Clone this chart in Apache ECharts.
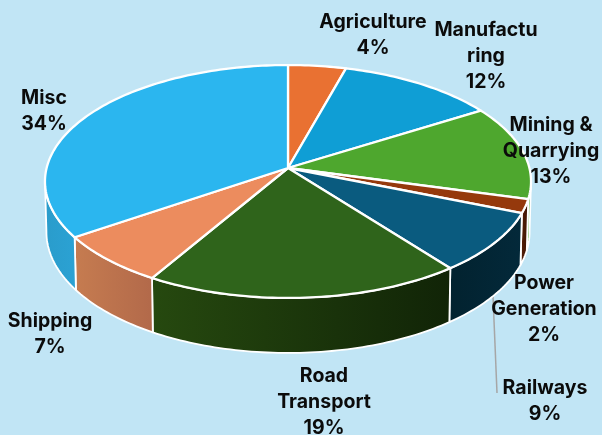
<!DOCTYPE html>
<html><head><meta charset="utf-8">
<style>html,body{margin:0;padding:0;background:#c1e5f5}#c{width:602px;height:435px}</style>
<script src="https://cdn.jsdelivr.net/npm/echarts@6/dist/echarts.min.js"></script>
</head><body><div id="c"></div>
<script>
// ---- data ----
const categories = ["Agriculture","Manufacturing","Mining & Quarrying","Power Generation","Railways","Road Transport","Shipping","Misc"];
const shares = [4.3,11.8,13.1,1.9,8.4,18.9,7.0,34.49];
const labelLines = [["Agriculture"],["Manufactu","ring"],["Mining &","Quarrying"],["Power","Generation"],["Railways"],["Road","Transport"],["Shipping"],["Misc"]];
const percentLabels = ["4%","12%","13%","2%","9%","19%","7%","34%"];
const topColors = ["#e97132","#0f9ed5","#4ea72e","#95390c","#0a5b7f","#2f641b","#ec8c5e","#2bb6ef"];
const wallColors = [["#e97132","#e97132"],["#0f9ed5","#0f9ed5"],["#4ea72e","#4ea72e"],["#5a2007","#3a1405"],["#02222f","#03293a"],["#26490f","#112407"],["#c67c50","#b2694a"],["#2a9ccb","#2ba2d4"]];
// ---- layout ----
const labelCentre = [[373,22],[486,30],[551,125],[544,283],[545,388],[324,376],[50,321],[44,98]];
const LINE_H = 26;
const P = {cx:288, cy:168, R:241.4, S:114.9, k:0.1159};
const total = shares.reduce((a,b)=>a+b,0);
function rim(theta, low){
  const u=Math.sin(theta), v=Math.cos(theta), d=1+P.k*v;
  let x=P.R*u/d, y=-P.S*v/d;
  if(low){ x*=0.994; y+=50-5*v; }
  return [P.cx+x, P.cy+y];
}
function arc(a,b,low){
  const n=Math.max(2,Math.ceil((b-a)/0.02)), pts=[];
  for(let i=0;i<=n;i++) pts.push(rim(a+(b-a)*i/n,low));
  return pts;
}
const angleAt=[]; let cum=0;
shares.forEach(s=>{angleAt.push([cum/total*2*Math.PI,(cum+s)/total*2*Math.PI]);cum+=s;});

function renderItem(params, api){
  const i=params.dataIndex;
  const [a,b]=angleAt[i];
  const children=[];
  const VIS_A=Math.PI*0.535, VIS_B=Math.PI*1.465;
  const wa=Math.max(a,VIS_A), wb=Math.min(b,VIS_B);
  if(wb>wa){
    const up=arc(wa,wb,false), lo=arc(wa,wb,true).reverse();
    children.push({type:'polygon',z2:1,shape:{points:up.concat(lo)},
      style:{fill:new echarts.graphic.LinearGradient(0,0,1,0,[
        {offset:0,color:wallColors[i][0]},{offset:1,color:wallColors[i][1]}]),
        stroke:'#fff',lineWidth:1.8,lineJoin:'round'}});
  }
  const top=[[P.cx,P.cy]].concat(arc(a,b,false));
  children.push({type:'polygon',z2:5,shape:{points:top},style:{fill:topColors[i],stroke:'#fff',lineWidth:2.3,lineJoin:'round'}});
  const lines=labelLines[i].concat([percentLabels[i]]);
  children.push({type:'text',z2:10,style:{
    text:lines.join('\n'),x:labelCentre[i][0],y:labelCentre[i][1]-LINE_H/2,align:'center',verticalAlign:'top',
    font:'700 19.5px Inter',lineHeight:LINE_H,fill:'#0b0b0b'}});
  return {type:'group',children};
}
const chart=echarts.init(document.getElementById('c'),null,{renderer:'canvas'});
chart.setOption({
  animation:false,
  backgroundColor:'#c1e5f5',
  series:[{type:'custom',coordinateSystem:'none',renderItem,silent:true,
    data:shares.map((v,i)=>({name:categories[i],value:[v]}))}],
  graphic:[{type:'polyline',z:1,shape:{points:[[493,296],[497,393]]},style:{stroke:'#a6a6a6',lineWidth:1.5,fill:null}}]
});
</script></body></html>
